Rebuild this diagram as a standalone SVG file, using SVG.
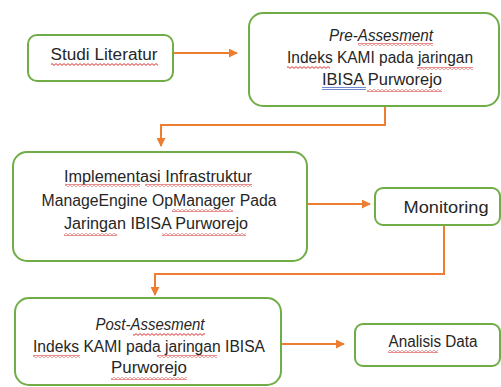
<svg xmlns="http://www.w3.org/2000/svg" width="501" height="387" viewBox="0 0 501 387">
<defs>
<marker id="ah" viewBox="0 0 10 10" refX="9" refY="5" markerWidth="9" markerHeight="9" markerUnits="userSpaceOnUse" orient="auto">
<path d="M0,0 L10,5 L0,10 z" fill="#ED7D31"/>
</marker>
<pattern id="sq" patternUnits="userSpaceOnUse" width="4" height="3">
<path d="M0,0.6 L2,2.4 L4,0.6" fill="none" stroke="#D93030" stroke-width="1"/>
</pattern>
<style>
.box{fill:#fff;stroke:#70AD47;stroke-width:2}
.t{font-family:"Liberation Sans",Arial,sans-serif;font-size:16px;fill:#262626;text-anchor:middle}
.i{font-style:italic}
.c{fill:none;stroke:#ED7D31;stroke-width:2}
.s{fill:url(#sq)}
.bu{stroke:#4A6FC0;stroke-width:0.8}
</style>
</defs>
<rect width="501" height="387" fill="#fff"/>
<g id="connectors">
<path class="c" d="M173,53 H237" marker-end="url(#ah)"/>
<path class="c" d="M385,106 V125 H161 V146" marker-end="url(#ah)"/>
<path class="c" d="M307,204 H370" marker-end="url(#ah)"/>
<path class="c" d="M444,225 V274 H155 V295" marker-end="url(#ah)"/>
<path class="c" d="M281,344 H344" marker-end="url(#ah)"/>
</g>
<g id="studi">
<rect class="box" x="28" y="35" width="145" height="46" rx="9"/>
<text class="t" x="104" y="60" textLength="107" lengthAdjust="spacingAndGlyphs">Studi Literatur</text>
<rect class="s" x="51" y="63" width="107" height="3"/>
</g>
<g id="pre">
<rect class="box" x="249" y="13" width="250" height="93" rx="14"/>
<text class="t i" x="381" y="41" textLength="104" lengthAdjust="spacingAndGlyphs">Pre-Assesment</text>
<text class="t" x="380" y="63" textLength="186" lengthAdjust="spacingAndGlyphs">Indeks KAMI pada jaringan</text>
<text class="t" x="382" y="85" textLength="120" lengthAdjust="spacingAndGlyphs">IBISA  Purworejo</text>
<rect class="s" x="358" y="43" width="75" height="3"/>
<rect class="s" x="287" y="66" width="43" height="3"/>
<rect class="s" x="417" y="67" width="56" height="3"/>
<line class="bu" x1="322" y1="87.5" x2="366" y2="87.5"/>
<line class="bu" x1="322" y1="89.5" x2="366" y2="89.5"/>
<rect class="s" x="367" y="89" width="75" height="3"/>
</g>
<g id="impl">
<rect class="box" x="13" y="152" width="294" height="109" rx="14"/>
<text class="t" x="158" y="182" textLength="188" lengthAdjust="spacingAndGlyphs">Implementasi Infrastruktur</text>
<text class="t" x="159" y="206" textLength="235" lengthAdjust="spacingAndGlyphs">ManageEngine OpManager Pada</text>
<text class="t" x="156" y="229" textLength="184" lengthAdjust="spacingAndGlyphs">Jaringan IBISA Purworejo</text>
<rect class="s" x="65" y="184" width="75" height="3"/>
<rect class="s" x="145" y="184" width="107" height="3"/>
<rect class="s" x="172" y="209" width="61" height="3"/>
<rect class="s" x="64" y="233" width="53" height="3"/>
<rect class="s" x="162" y="233" width="84" height="3"/>
</g>
<g id="monitoring">
<rect class="box" x="375" y="188" width="125" height="37" rx="8"/>
<text class="t" x="446" y="213" textLength="85" lengthAdjust="spacingAndGlyphs">Monitoring</text>
</g>
<g id="post">
<rect class="box" x="15" y="298" width="266" height="87" rx="14"/>
<text class="t i" x="150" y="330" textLength="109" lengthAdjust="spacingAndGlyphs">Post-Assesment</text>
<text class="t" x="149" y="352" textLength="232" lengthAdjust="spacingAndGlyphs">Indeks KAMI pada jaringan IBISA</text>
<text class="t" x="149" y="373" textLength="76" lengthAdjust="spacingAndGlyphs">Purworejo</text>
<rect class="s" x="133" y="333" width="72" height="3"/>
<rect class="s" x="33" y="355" width="47" height="3"/>
<rect class="s" x="157" y="355" width="60" height="3"/>
<rect class="s" x="111" y="377" width="76" height="3"/>
</g>
<g id="analisis">
<rect class="box" x="355" y="324" width="145" height="42" rx="8"/>
<text class="t" x="433" y="347" textLength="89" lengthAdjust="spacingAndGlyphs">Analisis Data</text>
<rect class="s" x="388" y="350" width="50" height="3"/>
</g>
</svg>
